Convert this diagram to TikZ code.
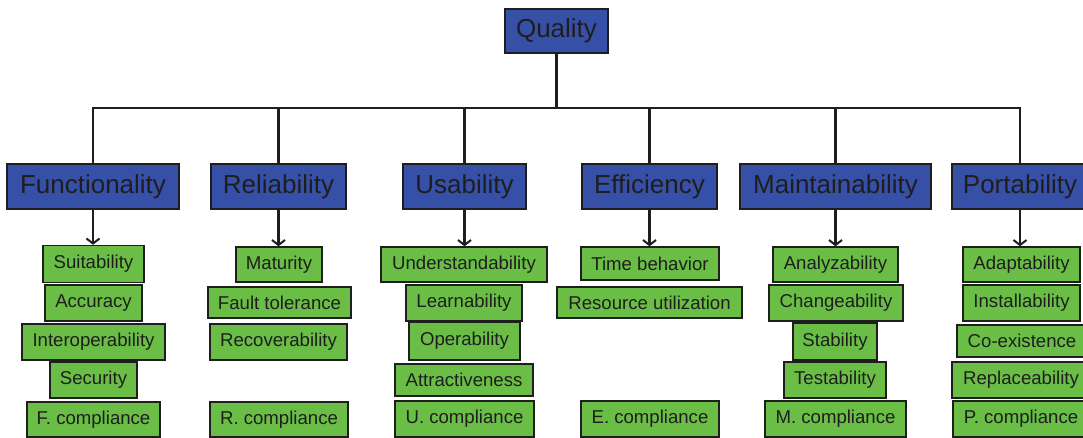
\documentclass[tikz,border=0pt]{standalone}
\usepackage{fontspec}
\setmainfont{Liberation Sans}
\usetikzlibrary{arrows.meta}
\definecolor{catblue}{RGB}{54,80,168}
\definecolor{subgreen}{RGB}{106,190,70}
\definecolor{inkgray}{RGB}{30,30,30}
\tikzset{
  catbox/.style={draw=inkgray, line width=1.6pt, fill=catblue, text=inkgray,
    inner sep=0pt, minimum height=45pt, font=\fontsize{26}{28}\selectfont},
  subbox/.style={draw=inkgray, line width=1.4pt, fill=subgreen, text=inkgray,
    inner sep=0pt, minimum height=36pt, font=\fontsize{18.6}{20}\selectfont},
  link/.style={draw=inkgray, line width=2.4pt},
  down/.style={link, -{Straight Barb[length=5pt,width=13pt,line width=2pt]}}
}
\begin{document}
\begin{tikzpicture}[x=1pt, y=-1pt]
\clip (0,0) rectangle (1083,438);
\fill[white] (0,0) rectangle (1083,438);

% root
\node[catbox, minimum width=103pt, minimum height=44pt] (q) at (556.5,31) {Quality};

% characteristics
\node[catbox, minimum width=172pt] (f) at (93,186.5) {Functionality};
\node[catbox, minimum width=135pt] (r) at (278.5,186.5) {Reliability};
\node[catbox, minimum width=123pt] (u) at (464.5,186.5) {Usability};
\node[catbox, minimum width=135pt] (e) at (649.5,186.5) {Efficiency};
\node[catbox, minimum width=191pt] (m) at (835.5,186.5) {Maintainability};
\node[catbox, minimum width=136pt] (p) at (1020,186.5) {Portability};

\coordinate (hb) at (0,108);

% sub-characteristics: Functionality
\node[subbox, minimum width=101pt, minimum height=37pt] (f1) at (93.5,264) {Suitability};
\node[subbox, minimum width=97pt]  (f2) at (93.5,303) {Accuracy};
\node[subbox, minimum width=143pt] (f3) at (93.5,342) {Interoperability};
\node[subbox, minimum width=87pt]  (f4) at (93.5,380) {Security};
\node[subbox, minimum width=133pt, minimum height=35pt] (f5) at (93.5,419.5) {F. compliance};

% Reliability
\node[subbox, minimum width=86pt, minimum height=35pt] (r1) at (279,264.5) {Maturity};
\node[subbox, minimum width=143pt, minimum height=31pt] (r2) at (279.5,302.5) {Fault tolerance};
\node[subbox, minimum width=137pt] (r3) at (278.5,342) {Recoverability};
\node[subbox, minimum width=138pt, minimum height=35pt] (r5) at (279,419.5) {R. compliance};

% Usability
\node[subbox, minimum width=166pt, minimum height=35pt] (u1) at (464,264.5) {Understandability};
\node[subbox, minimum width=116pt] (u2) at (464,303) {Learnability};
\node[subbox, minimum width=111pt, minimum height=38pt] (u3) at (464.5,341) {Operability};
\node[subbox, minimum width=138pt, minimum height=32pt] (u4) at (464,380) {Attractiveness};
\node[subbox, minimum width=139pt] (u5) at (464.5,419) {U. compliance};

% Efficiency
\node[subbox, minimum width=138pt, minimum height=33pt] (e1) at (650,263.5) {Time behavior};
\node[subbox, minimum width=185pt, minimum height=31pt] (e2) at (649.5,302.5) {Resource utilization};
\node[subbox, minimum width=138pt] (e5) at (650,419) {E. compliance};

% Maintainability
\node[subbox, minimum width=125pt, minimum height=35pt] (m1) at (835.5,264.5) {Analyzability};
\node[subbox, minimum width=134pt] (m2) at (836,303) {Changeability};
\node[subbox, minimum width=84pt, minimum height=37pt] (m3) at (835,341.5) {Stability};
\node[subbox, minimum width=102pt] (m4) at (835,380) {Testability};
\node[subbox, minimum width=141pt] (m5) at (835.5,419) {M. compliance};

% Portability
\node[subbox, minimum width=117pt, minimum height=35pt] (p1) at (1021.5,264.5) {Adaptability};
\node[subbox, minimum width=117pt] (p2) at (1021.5,303) {Installability};
\node[subbox, minimum width=130pt, minimum height=32pt] (p3) at (1022,341) {Co-existence};
\node[subbox, minimum width=138pt] (p4) at (1021,380) {Replaceability};
\node[subbox, minimum width=136pt] (p5) at (1021,419) {P. compliance};

% tree connectors
\draw[link] (q.south) -- (q.south |- hb);
\draw[link, line cap=rect] (f.north |- hb) -- (p.north |- hb);
\foreach \c in {f,r,u,e,m,p}
  \draw[link] (\c.north |- hb) -- (\c.north);
\foreach \c in {f,r,u,e,m,p}
  \draw[down] (\c.south) -- (\c.south |- \c1.north);
\end{tikzpicture}
\end{document}
